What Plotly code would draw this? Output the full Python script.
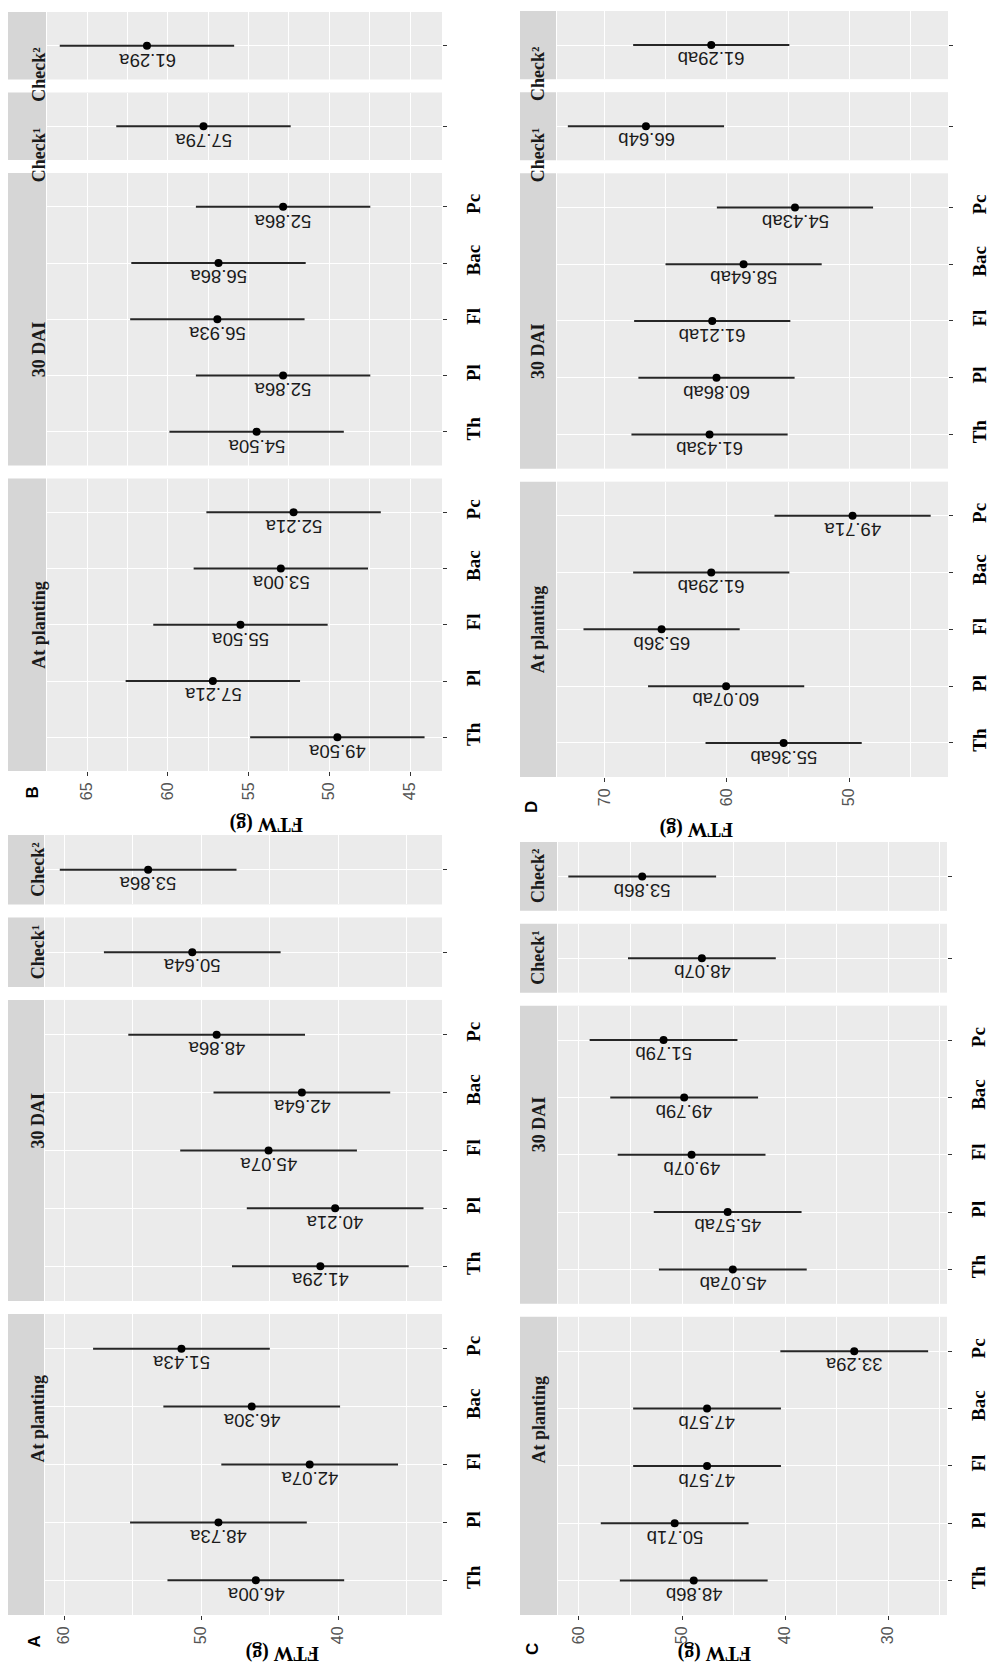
import plotly.graph_objects as go

W, H = 989, 1679

# ---------------------------------------------------------------- data
treatments = ["Th", "Pl", "Fl", "Bac", "Pc"]

# Panel A
a_planting = [46.00, 48.73, 42.07, 46.30, 51.43]
a_planting_sig = ["a", "a", "a", "a", "a"]
a_dai30 = [41.29, 40.21, 45.07, 42.64, 48.86]
a_dai30_sig = ["a", "a", "a", "a", "a"]
a_check1 = [50.64]
a_check1_sig = ["a"]
a_check2 = [53.86]
a_check2_sig = ["a"]
a_ci = 6.45
a_ticks = [60, 50, 40]

# Panel B
b_planting = [49.50, 57.21, 55.50, 53.00, 52.21]
b_planting_sig = ["a", "a", "a", "a", "a"]
b_dai30 = [54.50, 52.86, 56.93, 56.86, 52.86]
b_dai30_sig = ["a", "a", "a", "a", "a"]
b_check1 = [57.79]
b_check1_sig = ["a"]
b_check2 = [61.29]
b_check2_sig = ["a"]
b_ci = 5.40
b_ticks = [65, 60, 55, 50, 45]

# Panel C
c_planting = [48.86, 50.71, 47.57, 47.57, 33.29]
c_planting_sig = ["b", "b", "b", "b", "a"]
c_dai30 = [45.07, 45.57, 49.07, 49.79, 51.79]
c_dai30_sig = ["ab", "ab", "b", "b", "b"]
c_check1 = [48.07]
c_check1_sig = ["b"]
c_check2 = [53.86]
c_check2_sig = ["b"]
c_ci = 7.17
c_ticks = [60, 50, 40, 30]

# Panel D
d_planting = [55.36, 60.07, 65.36, 61.29, 49.71]
d_planting_sig = ["ab", "ab", "b", "ab", "a"]
d_dai30 = [61.43, 60.86, 61.21, 58.64, 54.43]
d_dai30_sig = ["ab", "ab", "ab", "ab", "ab"]
d_check1 = [66.64]
d_check1_sig = ["b"]
d_check2 = [61.29]
d_check2_sig = ["ab"]
d_ci = 6.40
d_ticks = [70, 60, 50]

# facets listed from the top of each panel down
facet_labels = ["Check²", "Check¹", "30 DAI", "At planting"]

panels = {
    "A": dict(facets=[(a_check2, a_check2_sig), (a_check1, a_check1_sig),
                      (a_dai30, a_dai30_sig), (a_planting, a_planting_sig)],
              ci=a_ci, ticks=a_ticks, minor=5, rng=[61.39, 32.41],
              xl=45, xr=442, top=835, bot=1615, strip=(8, 44),
              title=(243, 1667), letter=(22, 1650)),
    "B": dict(facets=[(b_check2, b_check2_sig), (b_check1, b_check1_sig),
                      (b_dai30, b_dai30_sig), (b_planting, b_planting_sig)],
              ci=b_ci, ticks=b_ticks, minor=2.5, rng=[67.48, 43.02],
              xl=47, xr=442, top=12, bot=771, strip=(8, 46),
              title=(227, 825), letter=(20, 793)),
    "C": dict(facets=[(c_check2, c_check2_sig), (c_check1, c_check1_sig),
                      (c_dai30, c_dai30_sig), (c_planting, c_planting_sig)],
              ci=c_ci, ticks=c_ticks, minor=5, rng=[62.03, 24.29],
              xl=558, xr=947, top=842, bot=1615, strip=(520, 557),
              title=(753, 1667), letter=(532, 1657)),
    "D": dict(facets=[(d_check2, d_check2_sig), (d_check1, d_check1_sig),
                      (d_dai30, d_dai30_sig), (d_planting, d_planting_sig)],
              ci=d_ci, ticks=d_ticks, minor=5, rng=[73.93, 41.89],
              xl=557, xr=948, top=11, bot=777, strip=(520, 556),
              title=(735, 830), letter=(532, 807)),
}

GAP = 13
PANEL_BG = "#EBEBEB"
STRIP_BG = "#D6D6D6"
SERIF = "Liberation Serif"
SANS = "Liberation Sans"

fig = go.Figure()
layout = {}
shapes = []
annotations = []


def px(xp):
    return xp / W


def py(yp):
    return 1 - yp / H


k = 0
for name, p in panels.items():
    sizes = [len(v) + 0.2 for v, _ in p["facets"]]
    unit = (p["bot"] - p["top"] - GAP * (len(sizes) - 1)) / sum(sizes)
    y_cursor = p["top"]
    for fi, ((vals, sig), label) in enumerate(zip(p["facets"], facet_labels)):
        k += 1
        n = len(vals)
        h = sizes[fi] * unit
        y0, y1 = y_cursor, y_cursor + h
        y_cursor = y1 + GAP
        bottom = fi == len(p["facets"]) - 1
        has_names = n == len(treatments)

        xs = "x" if k == 1 else f"x{k}"
        ys = "y" if k == 1 else f"y{k}"
        xkey = "xaxis" if k == 1 else f"xaxis{k}"
        ykey = "yaxis" if k == 1 else f"yaxis{k}"

        cats = list(range(n))

        fig.add_trace(go.Scatter(
            x=vals, y=cats, xaxis=xs, yaxis=ys, mode="markers",
            marker=dict(size=8, color="black"),
            error_x=dict(type="data", array=[p["ci"]] * n, visible=True,
                         color="#262626", thickness=2, width=0),
            showlegend=False, hoverinfo="skip"))

        layout[xkey] = dict(
            domain=[px(p["xl"]), px(p["xr"])], anchor=ys,
            range=p["rng"], autorange=False,
            tickmode="array", tickvals=p["ticks"],
            showgrid=True, gridcolor="white", gridwidth=1.3,
            minor=dict(tickmode="linear", tick0=p["ticks"][-1], dtick=p["minor"],
                       showgrid=True, gridcolor="white", gridwidth=0.8),
            zeroline=False, showline=False,
            showticklabels=bottom, ticks="outside" if bottom else "",
            ticklen=4, tickwidth=1.2, tickcolor="#333333", tickangle=-90,
            tickfont=dict(family=SANS, size=16, color="#555555"),
            automargin=False, fixedrange=True)

        yax = dict(
            domain=[py(y1), py(y0)], anchor=xs, side="right",
            range=[-0.6, n - 0.4], autorange=False,
            tickmode="array", tickvals=cats,
            tickangle=-90, ticks="outside", ticklen=4, tickwidth=1.2,
            tickcolor="#333333", showticklabels=has_names,
            showgrid=True, gridcolor="white", gridwidth=1.3,
            zeroline=False, showline=False,
            automargin=False, fixedrange=True)
        if has_names:
            yax.update(ticktext=treatments, ticklabelstandoff=10,
                       tickfont=dict(family=SERIF, size=19, color="black",
                                     weight="bold"))
        layout[ykey] = yax

        # value labels with significance letters
        for v, s, c in zip(vals, sig, cats):
            annotations.append(dict(
                x=v, y=c, xref=xs, yref=ys, text=f"{v:.2f}{s}",
                showarrow=False, textangle=180, yshift=-14,
                font=dict(family=SANS, size=18.5, color="#1a1a1a")))

        # facet strip
        sx0, sx1 = p["strip"]
        shapes.append(dict(type="rect", xref="paper", yref="paper",
                           x0=px(sx0), x1=px(sx1), y0=py(y1), y1=py(y0),
                           fillcolor=STRIP_BG, line=dict(width=0), layer="below"))
        annotations.append(dict(
            x=px((sx0 + sx1) / 2), y=py((y0 + y1) / 2), xref="paper", yref="paper",
            text=label, showarrow=False, textangle=-90,
            font=dict(family=SERIF, size=18, color="#1a1a1a", weight="bold")))

    # axis title and panel letter
    tx, ty = p["title"]
    annotations.append(dict(
        x=px(tx), y=py(ty), xref="paper", yref="paper", text="FTW (g)",
        showarrow=False, textangle=180,
        font=dict(family=SERIF, size=20, color="black", weight="bold")))
    lx, ly = p["letter"]
    annotations.append(dict(
        x=px(lx), y=py(ly), xref="paper", yref="paper", text=name,
        showarrow=False, textangle=-90,
        font=dict(family=SANS, size=17, color="black", weight="bold")))

fig.update_layout(
    width=W, height=H,
    margin=dict(l=0, r=0, t=0, b=0),
    paper_bgcolor="white", plot_bgcolor=PANEL_BG,
    shapes=shapes, annotations=annotations,
    **layout)

fig.write_html("out.html")
